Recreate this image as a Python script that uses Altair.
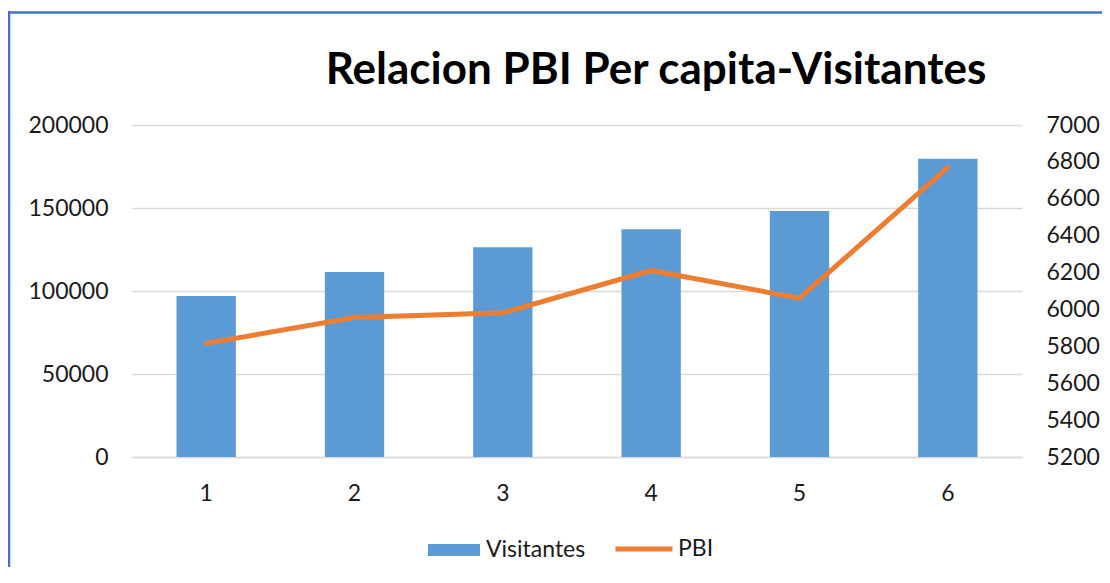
import altair as alt
import pandas as pd

categorias = ["1", "2", "3", "4", "5", "6"]
visitantes = [97000, 111400, 126400, 137200, 148200, 179600]
pbi = [5816, 5956, 5982, 6211, 6061, 6770]

left_ticks = [0, 50000, 100000, 150000, 200000]
right_ticks = [5200, 5400, 5600, 5800, 6000, 6200, 6400, 6600, 6800, 7000]
titulo = "Relacion PBI Per capita-Visitantes"

df = pd.DataFrame({
    "cat": categorias,
    "Visitantes": visitantes,
    "PBI": pbi,
    "s_bar": ["Visitantes"] * 6,
    "s_line": ["PBI"] * 6,
})

FONT = "Lato"
TXT = "#1a1a1a"
BLUE = "#5B9BD5"
ORANGE = "#ED7D31"
GRID = "#D9D9D9"
FS = 23

xenc = alt.X(
    "cat:O",
    sort=categorias,
    scale=alt.Scale(paddingInner=0.6, paddingOuter=0.3),
    axis=alt.Axis(title=None, labelAngle=0, ticks=False, domainColor=GRID,
                  domainWidth=1.5, labelPadding=25, labelFontSize=FS,
                  labelFont=FONT, labelColor=TXT),
)

bars = alt.Chart(df).mark_bar(color=BLUE).encode(
    x=xenc,
    y=alt.Y("Visitantes:Q",
            scale=alt.Scale(domain=[0, 200000], nice=False),
            axis=alt.Axis(title=None, values=left_ticks, orient="left",
                          ticks=False, domain=False, labelPadding=24,
                          labelFontSize=FS, labelFont=FONT, labelColor=TXT,
                          gridColor=GRID, gridWidth=1.5, format="d")),
    fill=alt.Fill("s_bar:N",
                  scale=alt.Scale(domain=["Visitantes"], range=[BLUE]),
                  legend=alt.Legend(title=None, orient="none", legendX=296,
                                    legendY=399, symbolType="M-1,-0.23H1V0.23H-1Z",
                                    symbolSize=2704, symbolStrokeWidth=0,
                                    labelFontSize=FS, labelFont=FONT,
                                    labelColor=TXT, labelOffset=6, padding=0)),
)

line = alt.Chart(df).mark_line(color=ORANGE, strokeWidth=5, strokeCap="round",
                               strokeJoin="round").encode(
    x=xenc,
    y=alt.Y("PBI:Q",
            scale=alt.Scale(domain=[5200, 7000], nice=False, zero=False),
            axis=alt.Axis(title=None, values=right_ticks, orient="right",
                          ticks=False, domain=False, grid=False, labelPadding=24,
                          labelFontSize=FS, labelFont=FONT, labelColor=TXT,
                          format="d")),
    stroke=alt.Stroke("s_line:N",
                      scale=alt.Scale(domain=["PBI"], range=[ORANGE]),
                      legend=alt.Legend(title=None, orient="none", legendX=481,
                                        legendY=393, symbolType="stroke",
                                        symbolSize=3249, symbolStrokeWidth=5,
                                        labelFontSize=FS, labelFont=FONT,
                                        labelColor=TXT, labelOffset=3, padding=0)),
)

frame = pd.DataFrame({"t": [titulo]})
title_text = alt.Chart(frame).mark_text(
    font=FONT, fontSize=44, fontWeight="bold", color="#000000",
    align="center", baseline="alphabetic"
).encode(x=alt.value(524), y=alt.value(-41), text="t:N")

left_border = alt.Chart(frame).mark_rule(color="#4472C4", strokeWidth=2.5).encode(
    x=alt.value(-123), y=alt.value(-114), y2=alt.value(470))
top_border = alt.Chart(frame).mark_rule(color="#4472C4", strokeWidth=2.5).encode(
    y=alt.value(-112.5), x=alt.value(-124), x2=alt.value(1000))

chart = alt.layer(bars, line, title_text, left_border, top_border).resolve_scale(
    y="independent", fill="independent", stroke="independent"
).properties(
    width=890, height=332,
    autosize=alt.AutoSizeParams(type="none"),
    padding={"left": 124, "top": 117, "right": 80, "bottom": 110},
    background="white",
).configure_view(stroke=None)

chart.save("out.html", embed_options={"renderer": "svg", "actions": False})
